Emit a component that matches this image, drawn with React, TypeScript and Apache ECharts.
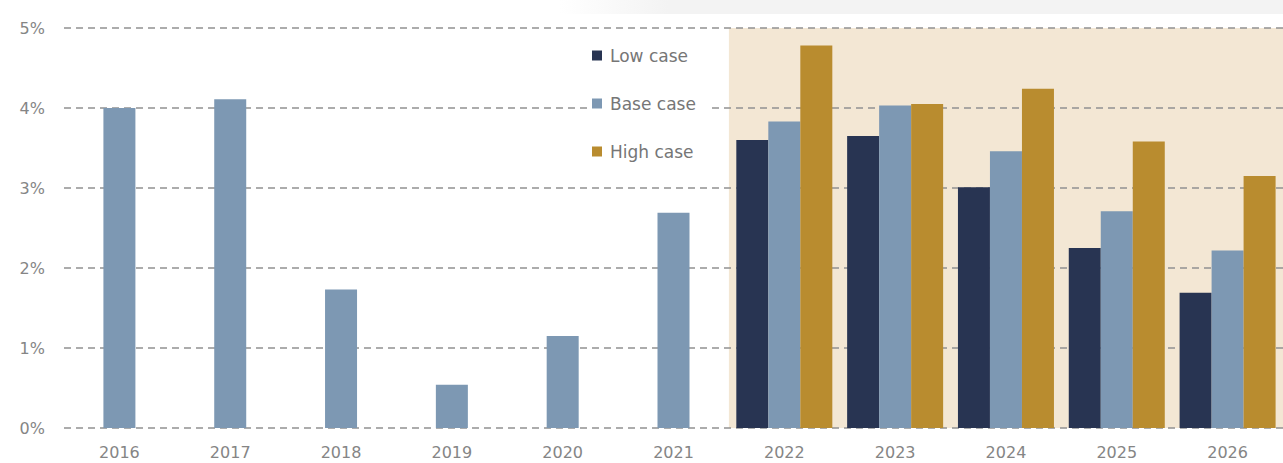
import React, { useEffect, useRef } from "react";
import * as echarts from "echarts";

const categories = ["2016", "2017", "2018", "2019", "2020", "2021", "2022", "2023", "2024", "2025", "2026"];
const lowCase = [null, null, null, null, null, null, 3.6, 3.65, 3.01, 2.25, 1.69];
const baseCase = [4.0, 4.11, 1.73, 0.54, 1.15, 2.69, 3.83, 4.03, 3.46, 2.71, 2.22];
const highCase = [null, null, null, null, null, null, 4.78, 4.05, 4.24, 3.58, 3.15];
const forecastYears = ["2022", "2026"];
const yTicks = [0, 1, 2, 3, 4, 5];

export default function App() {
  const ref = useRef<HTMLDivElement>(null);
  useEffect(() => {
    if (!ref.current) return;
    const chart = echarts.init(ref.current, undefined, { renderer: "svg" });
    const yMax = yTicks[yTicks.length - 1];
    const startIdx = categories.indexOf(forecastYears[0]);
    const endIdx = categories.indexOf(forecastYears[1]);
    const labelColor = "#858585";
    const font = "DejaVu Sans, Arial, sans-serif";
    const shadeColor = "#f3e7d4";
    chart.setOption({
      animation: false,
      backgroundColor: "#ffffff",
      graphic: [
        {
          type: "rect",
          shape: { x: 560, y: 0, width: 723, height: 14 },
          style: {
            fill: new echarts.graphic.LinearGradient(0, 0, 1, 0, [
              { offset: 0, color: "rgba(243,243,243,0)" },
              { offset: 0.15, color: "rgba(243,243,243,1)" },
              { offset: 1, color: "rgba(243,243,243,1)" },
            ]),
          },
          z: -10,
          silent: true,
        },
      ],
      grid: { left: 64, right: 0, top: 28, bottom: 35, containLabel: false },
      legend: {
        orient: "vertical",
        left: 588,
        top: 43,
        itemWidth: 10,
        itemHeight: 10,
        itemGap: 31,
        padding: [4, 12, 4, 4],
        backgroundColor: "#ffffff",
        data: ["Low case", "Base case", "High case"],
        textStyle: { color: "#767676", fontSize: 17, fontFamily: font, padding: [0, 0, 0, 3] },
        icon: "rect",
      },
      xAxis: {
        type: "category",
        data: categories,
        axisLine: { show: false },
        axisTick: { show: false },
        axisLabel: { color: labelColor, fontSize: 16, fontFamily: font, margin: 16 },
      },
      yAxis: {
        type: "value",
        min: 0,
        max: yMax,
        interval: 1,
        z: 1,
        axisLine: { show: false },
        axisTick: { show: false },
        axisLabel: { color: labelColor, fontSize: 16, fontFamily: font, margin: 19, formatter: "{value}%" },
        splitLine: { lineStyle: { color: "#919191", width: 1.5, type: [7, 5] } },
      },
      series: [
        {
          name: "Forecast",
          type: "custom",
          silent: true,
          z: 0,
          data: [[startIdx, endIdx, yMax]],
          encode: { x: [0, 1], y: 2 },
          renderItem: (params: any, api: any) => {
            const band = api.size([1, 0])[0];
            const p0 = api.coord([api.value(0), api.value(2)]);
            const p1 = api.coord([api.value(1), 0]);
            return {
              type: "rect",
              shape: { x: p0[0] - band / 2, y: p0[1], width: p1[0] - p0[0] + band, height: p1[1] - p0[1] },
              style: { fill: shadeColor },
            };
          },
        },
        {
          name: "Low case",
          type: "bar",
          data: lowCase,
          barWidth: 32,
          barGap: "0%",
          itemStyle: { color: "#283452" },
          z: 2,
        },
        {
          name: "Base case",
          type: "bar",
          data: baseCase,
          barWidth: 32,
          barGap: "0%",
          itemStyle: { color: "#7d98b3" },
          z: 2,
        },
        {
          name: "High case",
          type: "bar",
          data: highCase,
          barWidth: 32,
          barGap: "0%",
          itemStyle: { color: "#b98c2f" },
          z: 2,
        },
      ],
    });
    return () => chart.dispose();
  }, []);
  return <div ref={ref} style={{ position: "fixed", left: 0, top: 0, width: 1283, height: 463 }} />;
}
